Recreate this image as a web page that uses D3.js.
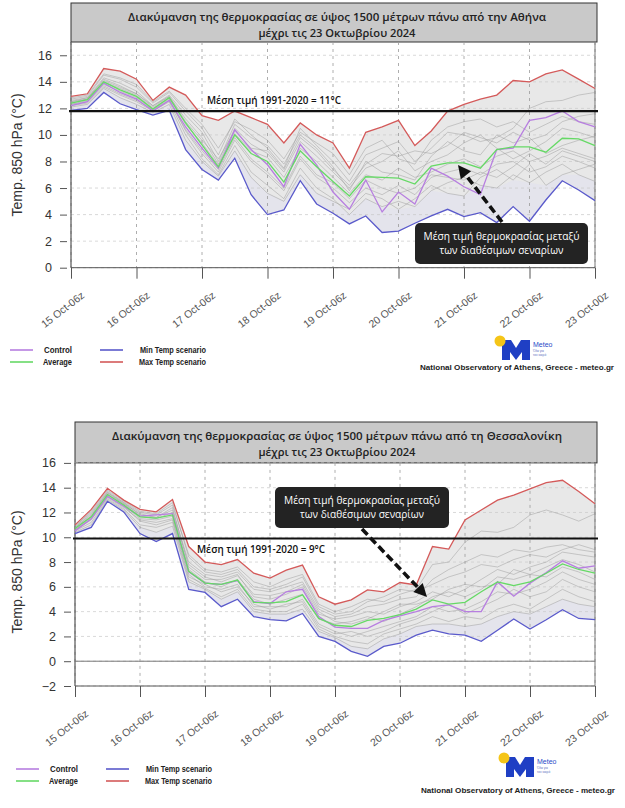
<!DOCTYPE html>
<html>
<head>
<meta charset="utf-8">
<script src="https://cdn.jsdelivr.net/npm/d3@7"></script>
<style>
  body { margin: 0; background: #fff; }
  svg { display: block; font-family: "Liberation Sans", Arial, sans-serif; }
</style>
</head>
<body>
<svg id="chart" width="625" height="808"></svg>
<script>
// x tick labels, every 4th 6-hourly step
const tickLabels = ["15 Oct-06z", "16 Oct-06z", "17 Oct-06z", "18 Oct-06z", "19 Oct-06z",
  "20 Oct-06z", "21 Oct-06z", "22 Oct-06z", "23 Oct-00z"];

// Athens (top panel)
const athMax = [12.9,13.1,15.0,14.8,14.2,12.6,13.6,13.0,11.45,11.1,11.8,11.3,10.8,9.4,10.9,10.0,9.4,7.5,10.2,10.6,11.1,9.2,10.3,11.8,12.3,12.7,13.0,14.1,14.0,14.6,14.9,14.2,13.5];
const athMin = [11.85,12.0,13.2,12.35,11.9,11.5,11.85,8.9,7.4,6.6,8.25,5.5,4.0,4.35,6.55,4.8,4.1,3.3,3.9,2.65,2.75,3.35,3.9,4.4,3.85,4.15,3.4,4.6,3.5,5.1,6.55,5.85,5.05];
const athAvg = [12.4,12.65,14.0,13.4,12.9,11.95,12.8,10.9,9.25,7.6,10.0,8.6,8.0,6.45,8.8,7.6,6.5,5.4,6.85,6.8,6.75,6.3,7.65,7.9,7.9,7.5,8.9,9.1,9.1,8.7,9.75,9.7,9.2];
const athCtrl = [12.2,12.5,13.9,13.2,12.7,11.8,12.6,10.6,9.0,7.5,10.4,8.9,7.75,6.1,9.3,7.75,5.7,4.4,6.6,4.2,5.7,4.8,7.5,6.9,6.1,5.5,8.9,9.0,11.1,11.3,11.8,11.0,10.6];
const athMembers = [
  [12.7,12.9,14.5,14.2,13.6,12.4,13.2,11.8,10.5,8.5,11.2,10.0,9.0,7.5,10.5,9.2,8.0,6.5,8.5,9.0,9.5,8.0,9.0,10.2,10.0,9.5,9.8,10.5,12.0,12.5,12.6,13.0,13.2],
  [12.5,12.7,14.2,13.7,13.1,12.1,12.9,11.2,9.8,7.8,10.5,9.3,8.6,7.2,9.5,8.4,7.2,6.0,7.5,8.0,8.8,7.3,8.0,8.5,9.4,10.0,9.0,8.2,8.8,9.5,10.5,10.2,9.8],
  [12.3,12.6,13.8,13.3,12.8,11.9,12.7,10.3,8.6,7.2,9.6,8.0,7.0,5.8,8.2,6.8,6.0,4.9,6.0,5.5,6.2,5.5,6.8,7.2,7.5,7.0,7.8,8.0,7.2,7.6,8.4,8.0,7.5],
  [12.6,12.8,14.3,13.9,13.3,12.2,13.0,11.5,10.2,8.0,10.8,9.8,9.2,7.8,10.0,9.0,7.6,5.8,8.0,7.2,7.0,6.6,8.4,9.5,8.8,8.5,10.0,9.4,9.8,8.6,9.2,9.6,9.9],
  [12.2,12.4,13.6,13.0,12.5,11.8,12.5,10.0,8.2,7.0,9.2,7.2,6.2,5.2,7.5,6.0,5.2,4.0,5.2,4.6,5.0,4.6,5.8,6.4,6.8,6.2,6.0,7.0,6.4,7.2,7.8,7.0,6.5],
  [12.4,12.7,14.0,13.5,13.0,12.0,12.8,10.8,9.4,7.7,10.1,8.8,8.3,6.8,9.0,8.0,6.8,5.6,7.0,6.6,7.5,6.8,7.2,7.8,8.2,7.6,8.4,8.8,8.0,8.4,9.0,8.6,8.2],
  [12.8,13.0,14.6,14.3,13.8,12.5,13.3,12.0,10.8,9.0,11.0,10.4,9.6,8.2,10.2,9.4,8.6,7.0,9.0,9.6,8.2,7.8,9.6,10.6,11.0,11.2,10.6,11.0,10.2,10.8,11.4,11.0,10.8],
  [12.1,12.3,13.5,12.8,12.3,11.7,12.3,9.6,8.0,6.9,8.8,6.8,5.6,5.0,7.0,5.6,5.0,4.4,5.6,5.2,4.4,5.2,6.2,5.6,5.4,6.8,7.4,6.6,7.8,6.2,7.0,7.4,7.8],
  [12.5,12.8,14.1,13.6,13.1,12.2,12.9,11.0,9.6,8.2,10.3,9.0,8.8,7.4,9.8,8.8,7.4,6.2,7.8,8.6,8.4,8.8,8.6,9.2,10.2,9.8,9.4,10.2,9.6,10.0,11.0,11.4,11.6],
  [12.3,12.5,13.7,13.1,12.6,11.9,12.6,10.4,8.8,7.4,9.8,8.2,7.2,6.0,8.4,7.0,6.4,5.2,6.6,6.0,5.6,6.0,7.0,6.8,6.6,7.2,6.8,7.6,8.6,7.8,8.8,8.4,8.0]
];
const athClimate = 11.8;

// Thessaloniki (bottom panel)
const thsMax = [11.0,12.25,13.95,13.0,12.25,12.05,13.05,9.25,8.0,7.8,8.2,7.1,6.7,7.35,7.75,5.2,4.6,4.95,5.75,5.6,6.35,6.15,9.25,9.05,11.4,12.2,13.0,13.4,13.9,14.4,14.6,13.7,12.7];
const thsMin = [10.3,10.8,12.9,12.05,10.3,9.65,10.3,5.8,5.55,4.4,5.0,3.6,3.35,3.25,3.85,2.0,1.6,0.8,0.4,1.2,1.45,2.1,2.5,2.2,2.1,1.6,2.5,3.4,2.6,3.35,4.15,3.45,3.35];
const thsAvg = [10.7,11.65,13.45,12.6,11.65,11.55,11.8,7.25,6.3,6.2,6.55,4.75,4.7,4.8,5.35,3.45,2.9,2.8,3.3,3.45,3.75,4.2,4.95,4.6,4.75,5.6,6.4,6.1,6.4,7.1,7.85,7.4,7.1];
const thsCtrl = [10.5,11.5,13.3,12.5,11.7,11.8,11.9,7.2,6.3,6.2,6.5,4.8,4.65,5.6,5.8,3.6,2.75,2.65,2.65,3.3,3.65,4.0,4.4,4.55,4.0,4.0,6.4,5.25,6.3,7.15,8.1,7.5,7.7];
const thsMembers = [
  [10.9,12.0,13.7,12.8,12.0,11.8,12.6,8.6,7.4,7.2,7.6,6.4,6.0,6.6,7.0,4.6,4.0,4.4,5.0,4.8,5.4,5.8,7.8,8.0,9.6,10.5,10.4,10.8,11.8,12.2,11.8,11.3,11.9],
  [10.8,11.8,13.6,12.7,11.9,11.6,12.2,8.0,7.0,6.8,7.2,5.8,5.6,6.0,6.4,4.2,3.6,3.8,4.4,4.6,5.0,5.2,6.6,7.4,8.0,8.6,8.4,9.0,8.8,9.2,9.4,9.0,8.8],
  [10.6,11.4,13.2,12.4,11.4,11.2,11.5,7.0,6.0,5.8,6.2,4.4,4.4,4.4,5.0,3.0,2.4,2.0,2.4,2.8,3.2,3.6,4.4,4.0,4.2,4.8,5.6,5.4,5.8,6.4,7.2,6.6,6.2],
  [10.5,11.2,13.1,12.3,11.0,10.8,11.2,6.6,5.9,5.2,5.8,4.2,4.0,4.0,4.6,2.6,2.0,1.6,1.4,2.2,2.6,3.0,3.6,3.2,3.6,3.4,4.2,4.6,4.2,5.0,5.8,5.2,4.8],
  [10.8,11.9,13.6,12.8,11.8,11.6,12.4,7.6,6.6,6.6,7.0,5.2,5.0,5.4,6.0,3.8,3.4,3.6,4.0,3.8,4.4,4.8,5.6,5.2,5.8,6.6,7.4,7.0,7.6,8.0,8.8,8.6,8.4],
  [10.6,11.6,13.4,12.6,11.5,11.4,11.7,7.4,6.4,6.0,6.6,5.0,4.6,5.0,5.4,3.4,3.0,3.2,3.6,3.2,3.8,4.4,5.2,5.6,5.2,5.8,6.8,6.6,7.0,7.6,8.2,7.8,7.2],
  [10.4,11.0,13.0,12.2,10.8,10.4,10.9,6.4,5.8,5.0,5.6,4.0,3.8,3.8,4.2,2.4,1.9,1.2,1.0,1.8,2.2,2.8,3.0,3.0,2.8,3.0,3.6,4.0,3.8,4.4,5.0,4.6,4.4],
  [10.7,11.7,13.5,12.7,11.7,11.5,12.0,7.8,6.8,6.4,6.9,5.4,5.3,5.6,6.2,4.0,3.2,3.0,3.4,4.0,4.6,4.6,5.0,5.8,6.2,6.0,6.2,7.4,7.0,6.8,7.6,7.2,6.6],
  [10.9,12.1,13.8,12.9,12.1,11.9,12.8,8.4,7.2,7.0,7.4,6.0,5.8,6.2,6.8,4.4,3.8,4.0,4.8,5.2,5.8,5.6,6.2,6.8,7.2,7.8,7.6,8.2,8.6,8.4,9.0,9.4,9.0],
  [10.6,11.5,13.3,12.5,11.3,11.0,11.4,6.8,6.2,5.6,6.0,4.6,4.2,4.6,4.8,2.8,2.2,2.4,2.0,2.4,3.0,3.4,4.0,4.6,3.8,4.4,5.0,5.8,5.2,5.6,6.6,6.0,5.6]
];
const thsClimate = 9.9;

const svg = d3.select("#chart");

const colors = { max: "#d45a5a", min: "#5a5acb", avg: "#66d966", ctrl: "#b77ee0" };

function drawPanel(p) {
  const x = d3.scaleLinear().domain([0, athMax.length - 1]).range([p.left, p.right]);
  const y = d3.scaleLinear().domain(p.yDomain).range([p.bottom, p.top]);
  const g = svg.append("g");

  // title box
  g.append("rect")
    .attr("x", p.left).attr("y", p.titleTop)
    .attr("width", p.right - p.left + 2).attr("height", p.top - p.titleTop)
    .attr("fill", "#c9c9c9").attr("stroke", "#333").attr("stroke-width", 1);
  g.append("text")
    .attr("x", 337).attr("y", p.titleTop + 18)
    .attr("text-anchor", "middle")
    .attr("font-family", "'Open Sans', sans-serif").attr("font-weight", 600)
    .attr("font-size", 11.5).attr("fill", "#222")
    .attr("textLength", p.titleW).attr("lengthAdjust", "spacingAndGlyphs")
    .text(p.title);
  g.append("text")
    .attr("x", 337).attr("y", p.titleTop + 34)
    .attr("text-anchor", "middle")
    .attr("font-family", "'Open Sans', sans-serif").attr("font-weight", 600)
    .attr("font-size", 11.5).attr("fill", "#222")
    .attr("textLength", 157).attr("lengthAdjust", "spacingAndGlyphs")
    .text("μέχρι τις 23 Οκτωβρίου 2024");

  // spread between min and max
  const area = d3.area()
    .x((d, i) => x(i))
    .y0((d, i) => y(p.min[i]))
    .y1(d => y(d));
  g.append("path").datum(p.max)
    .attr("d", area).attr("fill", "#e8e8e8");
  // faint bluish tint just above the min scenario
  const lowArea = d3.area()
    .x((d, i) => x(i))
    .y0((d, i) => y(p.min[i]))
    .y1((d, i) => y(Math.min(d3.min(p.members, m => m[i]), p.avg[i])));
  g.append("path").datum(p.min)
    .attr("d", lowArea).attr("fill", "#dcdcf4").attr("opacity", 0.35);

  // grid
  const yTicks = d3.range(p.yDomain[0], 17, 2);
  g.selectAll(".hgrid").data(yTicks).join("line")
    .attr("x1", p.left).attr("x2", p.right)
    .attr("y1", d => y(d)).attr("y2", d => y(d))
    .attr("stroke", "#c8c8c8").attr("stroke-width", 0.7)
    .attr("stroke-dasharray", "3,3");
  const xTicks = d3.range(0, athMax.length, 4);
  g.selectAll(".vgrid").data(xTicks).join("line")
    .attr("x1", d => x(d)).attr("x2", d => x(d))
    .attr("y1", p.top).attr("y2", p.bottom)
    .attr("stroke", "#999").attr("stroke-width", 0.8)
    .attr("stroke-dasharray", "3,4");

  // borders
  g.append("line").attr("x1", p.left).attr("x2", p.left).attr("y1", p.top).attr("y2", p.bottom)
    .attr("stroke", "#555").attr("stroke-width", 1.2);
  g.append("line").attr("x1", p.right).attr("x2", p.right).attr("y1", p.top).attr("y2", p.bottom)
    .attr("stroke", "#777").attr("stroke-width", 1);
  g.append("line").attr("x1", p.left).attr("x2", p.right).attr("y1", p.bottom).attr("y2", p.bottom)
    .attr("stroke", "#555").attr("stroke-width", 1);
  if (p.yDomain[0] < 0) {
    g.append("line").attr("x1", p.left).attr("x2", p.right).attr("y1", y(0)).attr("y2", y(0))
      .attr("stroke", "#777").attr("stroke-width", 1);
  }

  const line = d3.line().x((d, i) => x(i)).y(d => y(d));

  g.selectAll(".member").data(p.members).join("path")
    .attr("d", line).attr("fill", "none")
    .attr("stroke", "#9a9a9a").attr("stroke-width", 0.6).attr("opacity", 0.8);

  [[p.min, colors.min], [p.max, colors.max], [p.ctrl, colors.ctrl], [p.avg, colors.avg]].forEach(([d, c]) => {
    g.append("path").datum(d)
      .attr("d", line).attr("fill", "none")
      .attr("stroke", c).attr("stroke-width", 1.3);
  });

  // 1991-2020 mean
  g.append("line")
    .attr("x1", p.left - 2).attr("x2", p.right + 3)
    .attr("y1", y(p.climate)).attr("y2", y(p.climate))
    .attr("stroke", "#111").attr("stroke-width", 2.2);
  g.append("text")
    .attr("x", p.climX).attr("y", y(p.climate) + p.climDy)
    .attr("font-family", "'Open Sans', sans-serif").attr("font-weight", 600)
    .attr("font-size", 11).attr("fill", "#111")
    .attr("textLength", p.climW).attr("lengthAdjust", "spacingAndGlyphs")
    .text(p.climText);

  // axes
  const ya = g.append("g")
    .attr("transform", `translate(${p.left - p.tickGap},0)`)
    .call(d3.axisLeft(y).tickValues(yTicks).tickSize(7).tickPadding(8));
  ya.select(".domain").remove();
  ya.selectAll("line").attr("stroke", "#555");
  ya.selectAll("text").attr("font-size", 12.5).attr("fill", "#333")
    .attr("font-family", "'Liberation Sans', Arial, sans-serif");

  const xa = g.append("g")
    .attr("transform", `translate(0,${p.bottom})`)
    .call(d3.axisBottom(x).tickValues(xTicks).tickSize(11).tickFormat((d, i) => tickLabels[i]));
  xa.select(".domain").remove();
  xa.selectAll("line").attr("stroke", "#555");
  xa.selectAll("text")
    .attr("font-size", 10.5).attr("fill", "#555")
    .attr("font-family", "'Liberation Sans', Arial, sans-serif")
    .attr("text-anchor", "end")
    .attr("dy", 0)
    .attr("transform", "translate(5,18) rotate(-38)");

  g.append("text")
    .attr("transform", `translate(${p.ylabX},${p.ylabY}) rotate(-90)`)
    .attr("text-anchor", "middle")
    .attr("font-size", 14).attr("fill", "#333")
    .text("Temp. 850 hPa (°C)");

  // annotation
  const b = p.box;
  g.append("rect")
    .attr("x", b[0]).attr("y", b[1]).attr("width", b[2]).attr("height", b[3])
    .attr("rx", 5).attr("fill", "#232323");
  g.append("text")
    .attr("x", b[0] + b[2] / 2).attr("y", b[1] + 17)
    .attr("text-anchor", "middle").attr("fill", "#fff")
    .attr("font-family", "'Open Sans', sans-serif").attr("font-size", 10.5)
    .attr("textLength", 156).attr("lengthAdjust", "spacingAndGlyphs")
    .text("Μέση τιμή θερμοκρασίας μεταξύ");
  g.append("text")
    .attr("x", b[0] + b[2] / 2).attr("y", b[1] + 31)
    .attr("text-anchor", "middle").attr("fill", "#fff")
    .attr("font-family", "'Open Sans', sans-serif").attr("font-size", 10.5)
    .attr("textLength", 124).attr("lengthAdjust", "spacingAndGlyphs")
    .text("των διαθέσιμων σεναρίων");

  const a = p.arrow;
  const ang = Math.atan2(a[3] - a[1], a[2] - a[0]);
  const hl = 13, hw = 6.5;
  const bx = a[2] - hl * Math.cos(ang), by = a[3] - hl * Math.sin(ang);
  g.append("line")
    .attr("x1", a[0]).attr("y1", a[1]).attr("x2", bx).attr("y2", by)
    .attr("stroke", "#111").attr("stroke-width", 3.6).attr("stroke-dasharray", "8,4");
  g.append("path")
    .attr("d", `M${a[2]},${a[3]} L${bx + hw * Math.sin(ang)},${by - hw * Math.cos(ang)} L${bx - hw * Math.sin(ang)},${by + hw * Math.cos(ang)} Z`)
    .attr("fill", "#111");

  // legend
  const lg = g.append("g").attr("font-size", 8.5).attr("font-weight", "bold").attr("fill", "#222");
  const items = [
    ["Control", colors.ctrl, p.leg[0], p.leg[1], 28],
    ["Average", colors.avg, p.leg[0], p.leg[1] + 12, 29],
    ["Min Temp scenario", colors.min, p.leg[0] + 90, p.leg[1], 66],
    ["Max Temp scenario", colors.max, p.leg[0] + 90, p.leg[1] + 12, 67]
  ];
  items.forEach(([t, c, lx, ly, w], k) => {
    lg.append("line").attr("x1", lx).attr("x2", lx + 23).attr("y1", ly).attr("y2", ly)
      .attr("stroke", c).attr("stroke-width", 1.6);
    lg.append("text").attr("x", lx + (k < 2 ? 62 : 106)).attr("y", ly + 3)
      .attr("text-anchor", "end")
      .attr("textLength", w).attr("lengthAdjust", "spacingAndGlyphs").text(t);
  });

  // logo
  const lo = p.logo;
  g.append("path")
    .attr("d", `M${lo[0]},${lo[1] + 20} L${lo[0]},${lo[1]} L${lo[0] + 9},${lo[1]} L${lo[0] + 14},${lo[1] + 8} L${lo[0] + 19},${lo[1]} L${lo[0] + 28},${lo[1]} L${lo[0] + 28},${lo[1] + 20} L${lo[0] + 20},${lo[1] + 20} L${lo[0] + 20},${lo[1] + 12} L${lo[0] + 14},${lo[1] + 20} L${lo[0] + 8},${lo[1] + 12} L${lo[0] + 8},${lo[1] + 20} Z`)
    .attr("fill", "#1f3fc4");
  g.append("circle").attr("cx", lo[0] - 2).attr("cy", lo[1] + 1).attr("r", 5.5).attr("fill", "#f5c518");
  g.append("text").attr("x", lo[0] + 31).attr("y", lo[1] + 7)
    .attr("font-size", 7).attr("fill", "#2a4ac8").text("Meteo");
  g.append("text").attr("x", lo[0] + 31).attr("y", lo[1] + 12)
    .attr("font-size", 3.2).attr("fill", "#6070c0").text("Όλα για");
  g.append("text").attr("x", lo[0] + 31).attr("y", lo[1] + 16)
    .attr("font-size", 3.2).attr("fill", "#6070c0").text("τον καιρό");
  g.append("text").attr("x", p.credit[0]).attr("y", p.credit[1])
    .attr("text-anchor", "middle").attr("font-size", 8).attr("font-weight", "bold").attr("fill", "#222")
    .attr("textLength", 194).attr("lengthAdjust", "spacingAndGlyphs")
    .text("National Observatory of Athens, Greece - meteo.gr");
}

drawPanel({
  title: "Διακύμανση της θερμοκρασίας σε ύψος 1500 μέτρων πάνω από την Αθήνα", titleW: 418,
  titleTop: 3, left: 71, right: 595, top: 42, bottom: 267.7, yDomain: [0, 17], tickGap: 4,
  max: athMax, min: athMin, avg: athAvg, ctrl: athCtrl, members: athMembers,
  climate: athClimate, climText: "Μέση τιμή 1991-2020 = 11°C", climX: 207, climW: 134, climDy: -7,
  ylabX: 22, ylabY: 155,
  box: [415, 223, 173, 41], arrow: [502, 222, 458, 165],
  leg: [10, 350], logo: [502, 340], credit: [517, 370]
});

drawPanel({
  title: "Διακύμανση της θερμοκρασίας σε ύψος 1500 μέτρων πάνω από τη Θεσσαλονίκη", titleW: 450,
  titleTop: 422, left: 75, right: 595, top: 462.9, bottom: 686, yDomain: [-2, 16], tickGap: 4,
  max: thsMax, min: thsMin, avg: thsAvg, ctrl: thsCtrl, members: thsMembers,
  climate: thsClimate, climText: "Μέση τιμή 1991-2020 = 9°C", climX: 197, climW: 128, climDy: 14,
  ylabX: 22, ylabY: 572,
  box: [275, 487, 174, 41], arrow: [362, 529, 427, 597],
  leg: [16, 769], logo: [506, 757], credit: [518, 793]
});
</script>
</body>
</html>
